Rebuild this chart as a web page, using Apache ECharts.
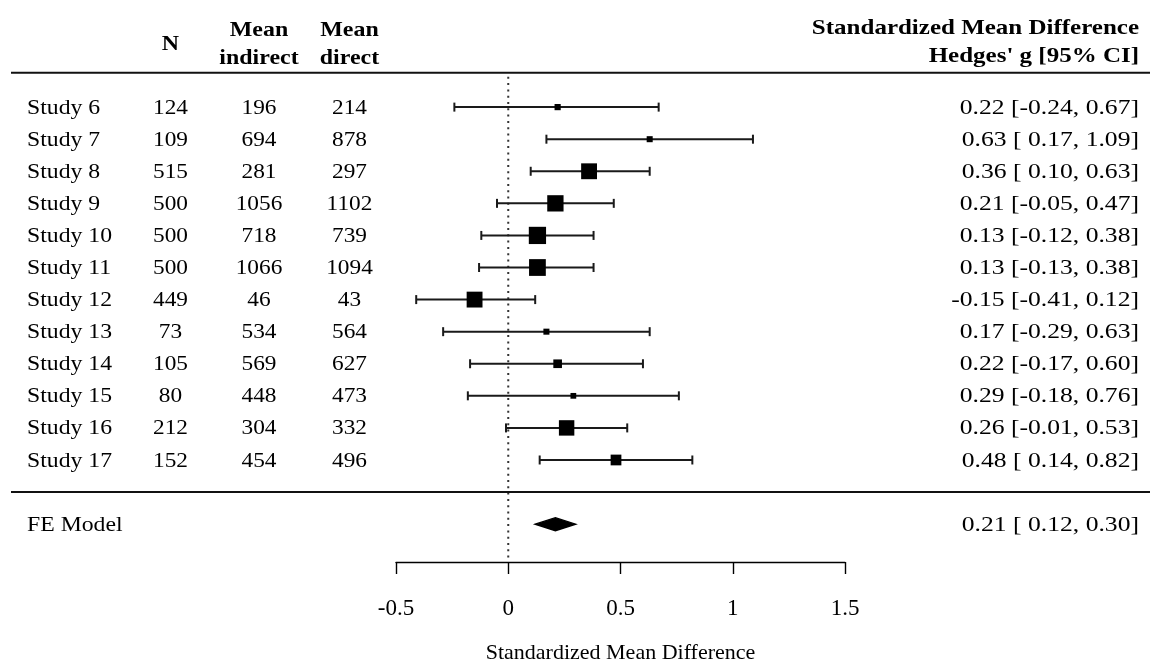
<!DOCTYPE html>
<html><head><meta charset="utf-8">
<script src="https://cdn.jsdelivr.net/npm/echarts@6/dist/echarts.min.js"></script>
<style>html,body{margin:0;padding:0;background:#fff}#c{width:1153px;height:666px}</style>
</head><body><div id="c"></div>
<script>
// ---- data ----
const studies = ['Study 6','Study 7','Study 8','Study 9','Study 10','Study 11','Study 12','Study 13','Study 14','Study 15','Study 16','Study 17'];
const nValues = [124,109,515,500,500,500,449,73,105,80,212,152];
const meanIndirect = [196,694,281,1056,718,1066,46,534,569,448,304,454];
const meanDirect = [214,878,297,1102,739,1094,43,564,627,473,332,496];
const smd = [0.22,0.63,0.36,0.21,0.13,0.13,-0.15,0.17,0.22,0.29,0.26,0.48];
const ciLower = [-0.24,0.17,0.10,-0.05,-0.12,-0.13,-0.41,-0.29,-0.17,-0.18,-0.01,0.14];
const ciUpper = [0.67,1.09,0.63,0.47,0.38,0.38,0.12,0.63,0.60,0.76,0.53,0.82];
const feLabel = 'FE Model';
const feEstimate = [0.21];
const feLower = [0.12];
const feUpper = [0.30];
const xTicks = [-0.5,0,0.5,1,1.5];
const xTickLabels = ['-0.5','0','0.5','1','1.5'];
const axisTitle = 'Standardized Mean Difference';
const colHeaders = ['N','Mean','indirect','Mean','direct'];
const rightHeaders = ['Standardized Mean Difference',"Hedges' g [95% CI]"];

// ---- layout / style ----
const FONT = '"Liberation Serif", "Times New Roman", serif';
const FS = 21;
const INK = '#000';
const TY = 1; // text vertical nudge
const k = studies.length;
const rows = studies.map((s,i)=>k-i);
const feRow = -1, sepRow = 0, headRow = 13.07;
const colX = {label:27, n:170.5, ind:259, dir:349.5, ann:1139};

function f2(v){ return v.toFixed(2); }
function pad(s,w){ while(s.length<w) s=' '+s; return s; }
function ann(e,l,u){ return f2(e)+' ['+pad(f2(l),5)+', '+f2(u)+']'; }

// weights ~ 1/se, mapped to square size
const invSe = ciLower.map((l,i)=>2*1.96/(ciUpper[i]-l));
const wMin = Math.min(...invSe), wMax = Math.max(...invSe);
function sqSize(w){ return 11.5*(0.5+(w-wMin)/(wMax-wMin)); }

function txt(x,y,text,align,bold,sx){
  return {type:'text', x:x, y:y, scaleX:sx, style:{text:text, x:0, y:0, align:align, verticalAlign:'middle',
    font:(bold?'bold ':'')+FS+'px '+FONT, fill:INK}};
}

const studyData = smd.map((v,i)=>[v, rows[i], ciLower[i], ciUpper[i], invSe[i]]);
const tableData = studies.map((s,i)=>[0, rows[i], i]);

const chart = echarts.init(document.getElementById('c'), null, {renderer:'canvas'});
chart.setOption({
  animation:false,
  backgroundColor:'#fff',
  grid:{left:396, right:308, top:0, bottom:104, containLabel:false, outerBoundsMode:'none'},
  xAxis:{type:'value', min:-0.5, max:1.5, interval:0.5,
    axisLine:{show:true, onZero:false, lineStyle:{color:INK, width:1.4}},
    axisTick:{show:true, inside:false, length:12, lineStyle:{color:INK, width:1.4}},
    splitLine:{show:false},
    axisLabel:{show:true, margin:35, fontSize:23, fontFamily:FONT, color:INK,
      formatter:function(v){ const i = xTicks.findIndex(t=>Math.abs(t-v)<1e-9); return i>=0?xTickLabels[i]:''; }},
    name:axisTitle, nameLocation:'middle', nameGap:80,
    nameTextStyle:{fontSize:22, fontFamily:FONT, color:INK}},
  yAxis:{type:'value', min:-2.18, max:15.339, show:false},
  series:[
    { // reference line and horizontal rules
      type:'custom', clip:false, silent:true,
      data:[[0, headRow]],
      renderItem:function(params, api){
        const top = api.coord([0, headRow]), bot = api.coord([0, -2.1]);
        const yH = api.coord([0, headRow])[1], yS = api.coord([0, sepRow])[1];
        return {type:'group', children:[
          {type:'line', shape:{x1:top[0], y1:top[1]+4, x2:bot[0], y2:bot[1]}, style:{stroke:'#333', lineWidth:2, lineDash:[2,4.3]}},
          {type:'line', shape:{x1:11, y1:yH, x2:1150, y2:yH}, style:{stroke:'#111', lineWidth:2}},
          {type:'line', shape:{x1:11, y1:yS, x2:1150, y2:yS}, style:{stroke:'#111', lineWidth:2}}
        ]};
      }
    },
    { // study CIs and squares
      type:'custom', silent:true, clip:false,
      data:studyData,
      renderItem:function(params, api){
        const e=api.value(0), r=api.value(1), l=api.value(2), u=api.value(3), w=api.value(4);
        const pE=api.coord([e,r]), pL=api.coord([l,r]), pU=api.coord([u,r]);
        const s=sqSize(w), c=4.5, ls={stroke:'#1a1a1a', lineWidth:2};
        return {type:'group', children:[
          {type:'line', shape:{x1:pL[0],y1:pL[1],x2:pU[0],y2:pU[1]}, style:ls},
          {type:'line', shape:{x1:pL[0],y1:pL[1]-c,x2:pL[0],y2:pL[1]+c}, style:ls},
          {type:'line', shape:{x1:pU[0],y1:pU[1]-c,x2:pU[0],y2:pU[1]+c}, style:ls},
          {type:'rect', shape:{x:pE[0]-s/2, y:pE[1]-s/2, width:s, height:s}, style:{fill:'#000'}}
        ]};
      }
    },
    { // FE diamond
      type:'custom', silent:true, clip:false,
      data:feEstimate.map((v,i)=>[v, feRow, feLower[i], feUpper[i]]),
      renderItem:function(params, api){
        const e=api.value(0), r=api.value(1), l=api.value(2), u=api.value(3);
        const pE=api.coord([e,r]), pL=api.coord([l,r]), pU=api.coord([u,r]);
        const h=6.5;
        return {type:'polygon', shape:{points:[[pL[0],pL[1]],[pE[0],pE[1]-h],[pU[0],pU[1]],[pE[0],pE[1]+h]]},
          style:{fill:'#000', stroke:'#000', lineWidth:1.4}};
      }
    },
    { // table text per study
      type:'custom', silent:true, clip:false,
      data:tableData,
      renderItem:function(params, api){
        const i=api.value(2), y=api.coord([0, api.value(1)])[1]+TY;
        return {type:'group', children:[
          txt(colX.label, y, studies[i], 'left', false, 1.13),
          txt(colX.n, y, String(nValues[i]), 'center', false, 1.11),
          txt(colX.ind, y, String(meanIndirect[i]), 'center', false, 1.11),
          txt(colX.dir, y, String(meanDirect[i]), 'center', false, 1.11),
          txt(colX.ann, y, ann(smd[i], ciLower[i], ciUpper[i]), 'right', false, 1.22)
        ]};
      }
    },
    { // FE text
      type:'custom', silent:true, clip:false,
      data:[[0, feRow, 0]],
      renderItem:function(params, api){
        const y=api.coord([0, api.value(1)])[1]+TY;
        return {type:'group', children:[
          txt(colX.label, y, feLabel, 'left', false, 1.13),
          txt(colX.ann, y, ann(feEstimate[0], feLower[0], feUpper[0]), 'right', false, 1.22)
        ]};
      }
    }
  ],
  graphic:[
    txt(colX.n, 45, colHeaders[0], 'center', true, 1.14),
    txt(colX.ind, 31, colHeaders[1], 'center', true, 1.14),
    txt(colX.ind, 59, colHeaders[2], 'center', true, 1.14),
    txt(colX.dir, 31, colHeaders[3], 'center', true, 1.14),
    txt(colX.dir, 59, colHeaders[4], 'center', true, 1.14),
    txt(colX.ann, 29, rightHeaders[0], 'right', true, 1.19),
    txt(colX.ann, 57, rightHeaders[1], 'right', true, 1.19)
  ]
});
</script></body></html>
